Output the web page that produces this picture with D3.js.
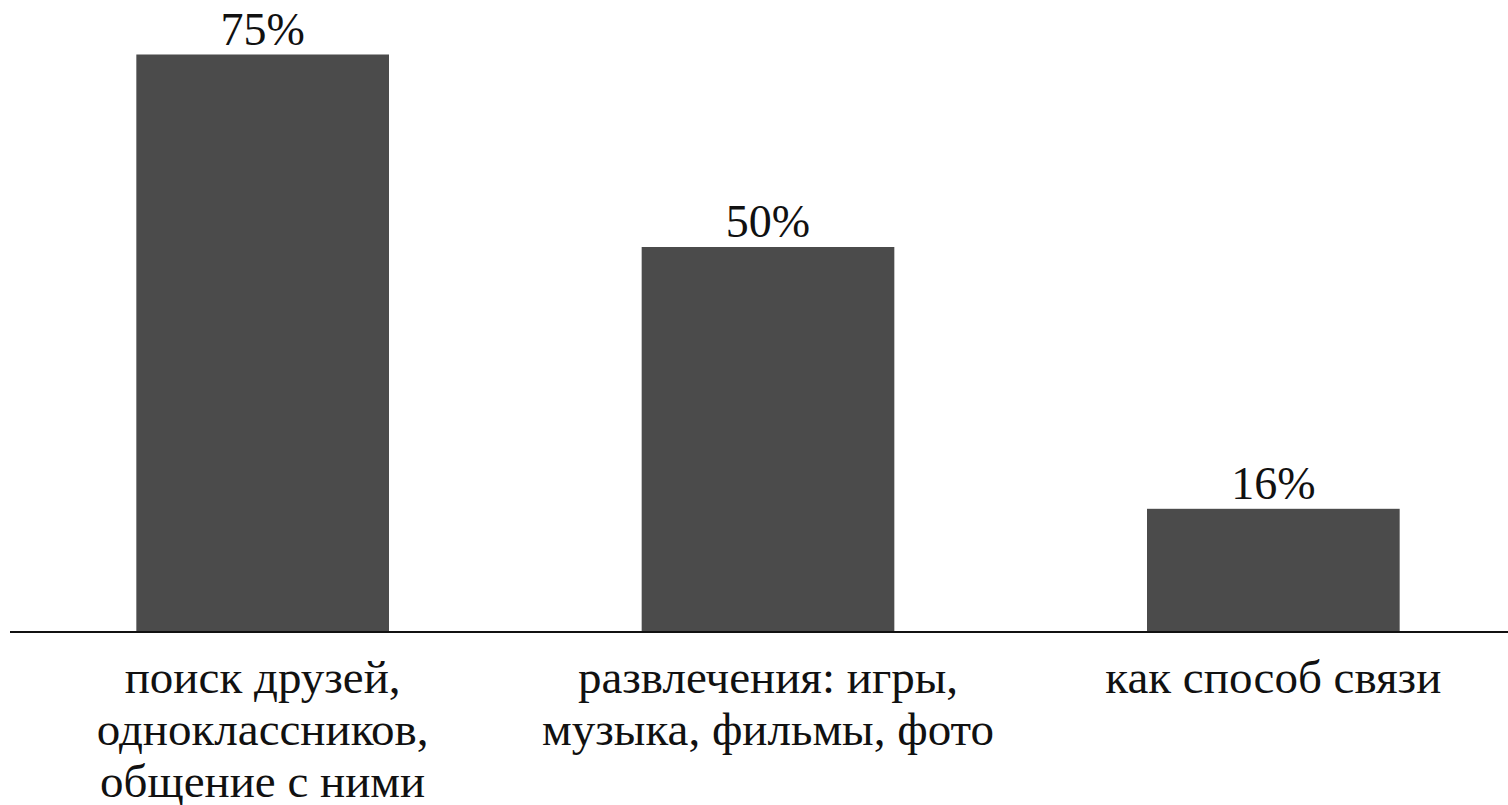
<!DOCTYPE html>
<html>
<head>
<meta charset="utf-8">
<script src="https://cdn.jsdelivr.net/npm/d3@7"></script>
<style>
  body { margin: 0; background: #fff; overflow: hidden; }
  svg { display: block; }
</style>
</head>
<body>
<div id="chart"></div>
<script>
var width = 1508, height = 805;
var serif = "'Liberation Serif', 'Times New Roman', Tinos, serif";

// data
var categories = ["friends", "fun", "contact"];
var values = [75, 50, 16];
var valueLabels = ["75%", "50%", "16%"];
var tickLabels = [
    ["поиск друзей,", "одноклассников,", "общение с ними"],
    ["развлечения: игры,", "музыка, фильмы, фото"],
    ["как способ связи"]
];

var baseline = 632;

var svg = d3.select("#chart").append("svg")
    .attr("width", width)
    .attr("height", height)
    .style("font-family", serif);

var x = d3.scaleBand()
    .domain(categories)
    .range([10, 1526])
    .paddingInner(0.5)
    .paddingOuter(0.25);

var y = d3.scaleLinear()
    .domain([0, 80])
    .range([baseline, baseline - 80 * 7.7]);

svg.selectAll(".bar")
    .data(values)
    .enter().append("rect")
    .attr("class", "bar")
    .attr("x", (d, i) => x(categories[i]))
    .attr("y", d => y(d))
    .attr("width", x.bandwidth())
    .attr("height", d => baseline - y(d))
    .attr("fill", "#4b4b4b");

// value labels
svg.selectAll(".val")
    .data(values)
    .enter().append("text")
    .attr("class", "val")
    .attr("x", (d, i) => x(categories[i]) + x.bandwidth() / 2)
    .attr("y", d => y(d) - 10)
    .attr("text-anchor", "middle")
    .style("font-family", serif)
    .style("font-size", "46px")
    .style("fill", "#111")
    .text((d, i) => valueLabels[i]);

// baseline
svg.append("line")
    .attr("x1", x.range()[0]).attr("x2", width)
    .attr("y1", y(0)).attr("y2", y(0))
    .attr("stroke", "#111")
    .attr("stroke-width", 2);

// category labels, one text per line
var catLines = [];
tickLabels.forEach(function(lines, i) {
    lines.forEach(function(line, j) {
        catLines.push({cat: categories[i], row: j, label: line});
    });
});

svg.selectAll(".cat")
    .data(catLines)
    .enter().append("text")
    .attr("class", "cat")
    .attr("x", d => x(d.cat) + x.bandwidth() / 2)
    .attr("y", d => y(0) + 61 + d.row * 52)
    .attr("text-anchor", "middle")
    .style("font-family", serif)
    .style("font-size", "47px")
    .style("fill", "#111")
    .text(d => d.label);
</script>
</body>
</html>
